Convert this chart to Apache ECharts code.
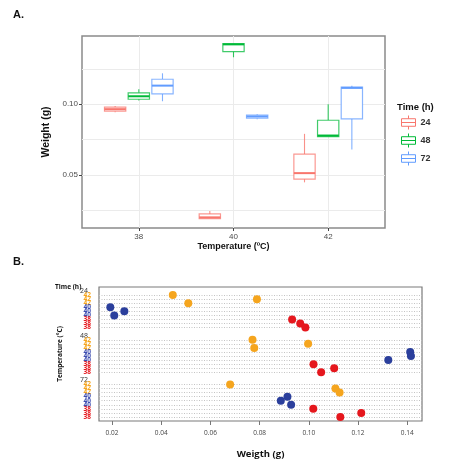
<!DOCTYPE html>
<html><head><meta charset="utf-8">
<script src="https://cdn.jsdelivr.net/npm/echarts@6/dist/echarts.min.js"></script>
<style>html,body{margin:0;padding:0;background:#fff}#c{width:465px;height:475px}</style>
</head><body><div id="c"></div>
<script>
// ---------- Panel A : boxplot stats per time level [temperature, min, q1, median, q3, max]
const timeLevels = ['24', '48', '72'];
const box24 = [[38, 0.0944, 0.0951, 0.0965, 0.0979, 0.0988],
               [40, 0.0193, 0.0193, 0.0202, 0.0226, 0.0247],
               [42, 0.0449, 0.0472, 0.0514, 0.0648, 0.0791]];
const box48 = [[38, 0.1026, 0.1035, 0.1056, 0.1080, 0.1106],
               [40, 0.1331, 0.1371, 0.1422, 0.1427, 0.1427],
               [42, 0.0772, 0.0772, 0.0779, 0.0887, 0.1000]];
const box72 = [[38, 0.1021, 0.1073, 0.1131, 0.1176, 0.1218],
               [40, 0.0894, 0.0901, 0.0913, 0.0923, 0.0930],
               [42, 0.0681, 0.0897, 0.1115, 0.1120, 0.1131]];
const xTicksA = [38, 40, 42];
const yTicksA = [0.05, 0.10];
const yGridA = [0.025, 0.05, 0.075, 0.10, 0.125];

// ---------- Panel B : individual weights, rows ordered 42,40,38 (3 reps) within each time group
const groupTimes = [24, 48, 72];
const rowTemps = [42, 40, 38];
const weight42 = [0.0447, 0.0789, 0.0510, 0.0771, 0.0997, 0.0778, 0.0680, 0.1108, 0.1125];
const weight40 = [0.0193, 0.0250, 0.0209, 0.1412, 0.1415, 0.1323, 0.0913, 0.0886, 0.0928];
const weight38 = [0.0932, 0.0965, 0.0986, 0.1019, 0.1103, 0.1050, 0.1018, 0.1213, 0.1128];
const xTicksB = [0.02, 0.04, 0.06, 0.08, 0.10, 0.12, 0.14];

// ---------- styling
const colorsA = ['#F8766D', '#00BA38', '#619CFF'];
const colorsB = {42: '#F5A51E', 40: '#2B3F9C', 38: '#E5171D'};
const DODGE = 0.5, BOX_W = 0.45;
const fontA = 'Liberation Sans, Arial, sans-serif';
const fontB = 'Open Sans, DejaVu Sans, sans-serif';
const BOX_ICON = 'path://M6.5,0L6.5,3M0,3L13,3L13,10L0,10ZM0,6.5L13,6.5M6.5,10L6.5,13';

// rows of panel B category axis
const rows = ['pad0'];
groupTimes.forEach((t, gi) => {
  rows.push('h' + t);
  rowTemps.forEach(temp => { for (let r = 0; r < 3; r++) rows.push(t + '_' + temp + '_' + r); });
  if (gi < groupTimes.length - 1) rows.push('gap' + gi);
});
rows.push('padEnd');

function pointsFor(temp, arr) {
  return arr.map((w, i) => [w, groupTimes[Math.floor(i / 3)] + '_' + temp + '_' + (i % 3)]);
}

function boxRender(shift) {
  return function (params, api) {
    const x = api.value(0) + shift;
    const half = api.size([BOX_W, 0])[0] / 2;
    const pMin = api.coord([x, api.value(1)]);
    const pQ1 = api.coord([x, api.value(2)]);
    const pMed = api.coord([x, api.value(3)]);
    const pQ3 = api.coord([x, api.value(4)]);
    const pMax = api.coord([x, api.value(5)]);
    const c = api.visual('color');
    const cx = pMed[0];
    return {type: 'group', children: [
      {type: 'line', shape: {x1: cx, y1: pMax[1], x2: cx, y2: pQ3[1]}, style: {stroke: c, lineWidth: 1.1, opacity: 0.8}},
      {type: 'line', shape: {x1: cx, y1: pQ1[1], x2: cx, y2: pMin[1]}, style: {stroke: c, lineWidth: 1.1, opacity: 0.8}},
      {type: 'rect', shape: {x: cx - half, y: pQ3[1], width: 2 * half, height: Math.max(pQ1[1] - pQ3[1], 0.5)},
       style: {fill: '#fff', stroke: c, lineWidth: 1.2, strokeOpacity: 0.75}},
      {type: 'line', shape: {x1: cx - half, y1: pMed[1], x2: cx + half, y2: pMed[1]}, style: {stroke: c, lineWidth: 2}}
    ]};
  };
}

const boxData = [box24, box48, box72];
const boxSeries = timeLevels.map((t, i) => ({
  type: 'custom', name: t, xAxisIndex: 0, yAxisIndex: 0,
  itemStyle: {color: colorsA[i]},
  encode: {x: 0, y: [1, 2, 3, 4, 5]},
  renderItem: boxRender((i - 1) * DODGE),
  data: boxData[i]
}));

const scatterSeries = [[42, weight42], [40, weight40], [38, weight38]].map(([temp, arr]) => ({
  type: 'scatter', name: 'T' + temp, xAxisIndex: 1, yAxisIndex: 2,
  symbolSize: 8, itemStyle: {color: colorsB[temp], opacity: 1},
  data: pointsFor(temp, arr)
}));

const chart = echarts.init(document.getElementById('c'), null, {renderer: 'canvas'});
chart.setOption({
  animation: false,
  backgroundColor: '#fff',
  title: [
    {text: 'A.', left: 8, top: 4, textStyle: {fontSize: 11, fontWeight: 'bold', color: '#111', fontFamily: fontA}},
    {text: 'B.', left: 8, top: 251, textStyle: {fontSize: 11, fontWeight: 'bold', color: '#111', fontFamily: fontA}},
    {text: 'Time (h)', left: 392, top: 97, textStyle: {fontSize: 9.5, fontWeight: 'bold', color: '#111', fontFamily: fontA}},
    {text: 'Time (h)', left: 50, top: 279, textStyle: {fontSize: 6.5, fontWeight: 'bold', color: '#111', fontFamily: fontB}}
  ],
  legend: {
    orient: 'vertical', left: 401, top: 115, itemWidth: 14, itemHeight: 14, itemGap: 3,
    padding: 0, selectedMode: false,
    textStyle: {fontSize: 9, color: '#333', fontFamily: fontA, fontWeight: 'bold'},
    data: timeLevels.map((t, i) => ({name: t, icon: BOX_ICON,
      itemStyle: {color: '#fff', borderColor: colorsA[i], borderWidth: 1}}))
  },
  grid: [
    {left: 82, top: 36, width: 303, height: 192, show: true, borderColor: '#8a8a8a', borderWidth: 1.5, containLabel: false},
    {left: 99, top: 287, width: 323, height: 134, show: true, borderColor: '#7a7a7a', borderWidth: 1.2, containLabel: false}
  ],
  xAxis: [
    {type: 'value', gridIndex: 0, min: 36.8, max: 43.2,
     name: 'Temperature (ºC)', nameLocation: 'middle', nameGap: 12,
     nameTextStyle: {fontSize: 9, fontWeight: 'bold', color: '#111', fontFamily: fontA},
     axisLine: {show: false},
     axisTick: {show: true, length: 3, customValues: xTicksA, lineStyle: {color: '#444'}},
     axisLabel: {customValues: xTicksA, fontSize: 8, color: '#4d4d4d', margin: 5, fontFamily: fontA},
     splitLine: {show: true, lineStyle: {color: '#ebebeb', width: 1}}},
    {type: 'value', gridIndex: 1, min: 0.0147, max: 0.146,
     name: 'Weigth (g)', nameLocation: 'middle', nameGap: 28,
     nameTextStyle: {fontSize: 9.5, fontWeight: 'bold', color: '#111', fontFamily: fontB},
     axisLine: {show: false},
     axisTick: {show: true, length: 4, customValues: xTicksB, lineStyle: {color: '#777'}},
     axisLabel: {customValues: xTicksB, fontSize: 6.5, color: '#444', margin: 9, fontFamily: fontB,
                 formatter: v => v.toFixed(2)},
     splitLine: {show: false}}
  ],
  yAxis: [
    {type: 'value', gridIndex: 0, min: 0.0127, max: 0.1481,
     axisLine: {show: false},
     axisTick: {show: false, customValues: yGridA},
     axisLabel: {show: false, customValues: yGridA},
     splitLine: {show: true, lineStyle: {color: '#ebebeb', width: 1}}},
    {type: 'value', gridIndex: 0, min: 0.0127, max: 0.1481, position: 'left',
     name: 'Weight (g)', nameLocation: 'middle', nameGap: 25, nameRotate: 90,
     nameTextStyle: {fontSize: 10.5, fontWeight: 'bold', color: '#111', fontFamily: fontA},
     axisLine: {show: false},
     axisTick: {show: true, length: 3, customValues: yTicksA, lineStyle: {color: '#444'}},
     axisLabel: {customValues: yTicksA, fontSize: 8, color: '#4d4d4d', margin: 4, fontFamily: fontA,
                 formatter: v => v.toFixed(2)},
     splitLine: {show: false}},
    {type: 'category', gridIndex: 1, data: rows, inverse: true, boundaryGap: false,
     name: 'Temperature (°C)', nameLocation: 'middle', nameGap: 35, nameRotate: 90,
     nameTextStyle: {fontSize: 6.5, fontWeight: 'bold', color: '#111', fontFamily: fontB, padding: [0, 0, 0, 0]},
     axisLine: {show: false}, axisTick: {show: false},
     axisLabel: {interval: 0, margin: 8, fontFamily: fontB,
       formatter: v => {
         if (v.charAt(0) === 'h') return '{h|' + v.slice(1) + '}';
         if (v.indexOf('_') > 0) { const t = v.split('_')[1]; return '{t' + t + '|' + t + '}'; }
         return '';
       },
       rich: {
         h: {fontSize: 7, color: '#333', padding: [0, 3, 0, 0], fontFamily: fontB},
         t42: {fontSize: 6.5, color: colorsB[42], fontWeight: 'bold', fontFamily: fontB},
         t40: {fontSize: 6.5, color: '#3d4db0', fontWeight: 'bold', fontFamily: fontB},
         t38: {fontSize: 6.5, color: colorsB[38], fontWeight: 'bold', fontFamily: fontB}
       }},
     splitLine: {show: true, interval: (i, v) => v.indexOf('_') > 0,
                 lineStyle: {color: '#c4c4c4', type: [1, 1.5], width: 1}}}
  ],
  series: boxSeries.concat(scatterSeries)
});
</script></body></html>
